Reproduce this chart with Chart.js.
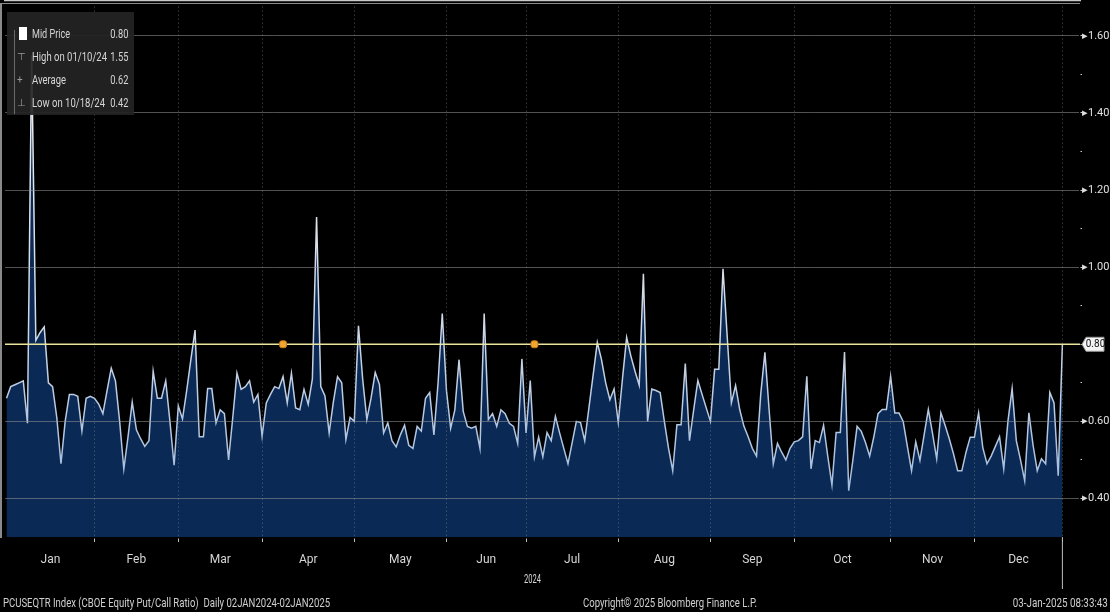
<!DOCTYPE html>
<html>
<head>
<meta charset="utf-8">
<script src="https://cdn.jsdelivr.net/npm/chart.js@4.4.1/dist/chart.umd.min.js"></script>
<style>
  html, body { margin: 0; padding: 0; background: #000; }
  #wrap {
    position: relative; width: 1110px; height: 612px; overflow: hidden; background: #000;
    font-family: "Liberation Sans Narrow", Roboto, "Liberation Sans", sans-serif;
    color: #d6d6d6;
  }
  #chart { position: absolute; left: 0; top: 0; }
  .frame { position: absolute; background: #8a8a8a; }
  #legendBox {
    position: absolute; left: 7px; top: 12px; width: 127px; height: 103px;
    background: rgba(36, 36, 36, 0.92); font-size: 13.5px;
  }
  #legendBox .lab, #legendBox .val { position: absolute; height: 23px; line-height: 23px; white-space: nowrap; display: inline-block; }
  #legendBox .lab { left: 25px; transform-origin: left center; }
  #legendBox .val { right: 6px; transform-origin: right center; }
  #legendBox .bar { position: absolute; left: 7px; top: 18px; width: 1px; height: 84px; background: #6a6a6a; }
  #legendBox .sym { position: absolute; left: 10px; font-size: 10px; color: #9a9a9a; line-height: 23px; }
  #legendBox .sq { position: absolute; left: 12px; top: 15px; width: 8px; height: 13px; background: #fff; }
  .foot { position: absolute; top: 595px; font-size: 13px; color: #cfcfcf; white-space: nowrap; line-height: 16px; display: inline-block; }
  #year { position: absolute; top: 570px; font-size: 13.5px; color: #d6d6d6; display: inline-block; transform-origin: left center; }
</style>
</head>
<body>
<div id="wrap">
  <canvas id="chart" width="1110" height="612"></canvas>
  <div class="frame" style="left:0; top:3px; width:2px; height:535px;"></div>
  <div class="frame" style="left:0; top:3px; width:1080px; height:1px;"></div>
  <div id="legendBox">
    <div class="bar"></div>
    <div class="sq"></div>
    <div class="sym" style="top:33px;">&#8868;</div>
    <div class="sym" style="top:56px;">+</div>
    <div class="sym" style="top:79px;">&#8869;</div>
    <span class="lab" style="top:10px;" data-w="38">Mid Price</span><span class="val" style="top:10px;" data-w="18">0.80</span>
    <span class="lab" style="top:33px;" data-w="75">High on 01/10/24</span><span class="val" style="top:33px;" data-w="18">1.55</span>
    <span class="lab" style="top:56px;" data-w="34">Average</span><span class="val" style="top:56px;" data-w="18">0.62</span>
    <span class="lab" style="top:79px;" data-w="73">Low on 10/18/24</span><span class="val" style="top:79px;" data-w="18">0.42</span>
  </div>
  <span id="year" data-w="17">2024</span>
  <span class="foot" style="left:3px; transform-origin:left center;" data-w="327">PCUSEQTR Index (CBOE Equity Put/Call Ratio)&nbsp; Daily 02JAN2024-02JAN2025</span>
  <span class="foot" style="left:583px; transform-origin:left center;" data-w="174">Copyright&copy; 2025 Bloomberg Finance L.P.</span>
  <span class="foot" style="right:2px; transform-origin:right center;" data-w="95">03-Jan-2025 08:33:43</span>
</div>
<script>
// daily put/call ratio, one value per trading day, grouped by month
const jan = [0.66, 0.69, 0.695, 0.70, 0.705, 0.595, 1.55, 0.81, 0.83, 0.845, 0.70, 0.69, 0.61, 0.49, 0.60, 0.67, 0.67, 0.665, 0.575, 0.66, 0.665];
const feb = [0.66, 0.645, 0.62, 0.68, 0.738, 0.705, 0.60, 0.477, 0.56, 0.65, 0.578, 0.555, 0.535, 0.55, 0.73, 0.66, 0.66, 0.705, 0.60, 0.486];
const mar = [0.64, 0.606, 0.68, 0.76, 0.837, 0.56, 0.56, 0.685, 0.685, 0.596, 0.63, 0.62, 0.50, 0.61, 0.725, 0.683, 0.69, 0.705, 0.65, 0.67];
const apr = [0.562, 0.648, 0.67, 0.69, 0.685, 0.716, 0.648, 0.725, 0.635, 0.63, 0.683, 0.644, 0.71, 1.13, 0.69, 0.666, 0.57, 0.65, 0.716, 0.70, 0.553, 0.61];
const may = [0.60, 0.848, 0.71, 0.605, 0.66, 0.727, 0.696, 0.57, 0.596, 0.55, 0.534, 0.565, 0.59, 0.538, 0.53, 0.587, 0.575, 0.66, 0.675, 0.565, 0.70, 0.88];
const jun = [0.68, 0.582, 0.63, 0.76, 0.626, 0.587, 0.582, 0.587, 0.53, 0.88, 0.605, 0.62, 0.587, 0.63, 0.62, 0.595, 0.587, 0.543, 0.762];
const jul = [0.57, 0.706, 0.508, 0.559, 0.508, 0.571, 0.55, 0.613, 0.57, 0.53, 0.49, 0.545, 0.60, 0.597, 0.55, 0.635, 0.72, 0.805, 0.76, 0.70, 0.656, 0.684];
const aug = [0.597, 0.71, 0.818, 0.77, 0.73, 0.694, 0.983, 0.60, 0.684, 0.68, 0.675, 0.60, 0.53, 0.472, 0.591, 0.591, 0.75, 0.55, 0.63, 0.706, 0.67, 0.635];
const sep = [0.60, 0.735, 0.735, 0.996, 0.82, 0.648, 0.693, 0.63, 0.587, 0.56, 0.53, 0.51, 0.67, 0.779, 0.63, 0.49, 0.543, 0.52, 0.50, 0.53];
const oct = [0.547, 0.55, 0.56, 0.717, 0.477, 0.55, 0.545, 0.59, 0.51, 0.435, 0.571, 0.571, 0.78, 0.42, 0.50, 0.587, 0.574, 0.545, 0.51, 0.56, 0.62, 0.631, 0.631];
const nov = [0.717, 0.622, 0.622, 0.60, 0.535, 0.472, 0.547, 0.499, 0.565, 0.631, 0.569, 0.503, 0.622, 0.59, 0.555, 0.516, 0.472, 0.472, 0.52, 0.559];
const dec = [0.559, 0.622, 0.532, 0.49, 0.51, 0.535, 0.56, 0.477, 0.60, 0.685, 0.55, 0.50, 0.446, 0.622, 0.538, 0.472, 0.503, 0.49, 0.675, 0.648, 0.459];
const jan25 = [0.80];

const monthNames = ["Jan", "Feb", "Mar", "Apr", "May", "Jun", "Jul", "Aug", "Sep", "Oct", "Nov", "Dec"];
const yTickLabels = ["0.40", "0.60", "0.80", "1.00", "1.20", "1.40", "1.60"];
const eventDays = [66, 126];   // trading-day index of the orange event flags

const months = [jan, feb, mar, apr, may, jun, jul, aug, sep, oct, nov, dec, jan25];
const values = months.flat();
const points = values.map((v, i) => ({ x: i, y: v }));

const monthStarts = [];
let count = 0;
months.forEach(m => { monthStarts.push(count); count += m.length; });
const gridDays = monthStarts.slice(1);
const labelDays = monthNames.map((n, i) => (monthStarts[i] + monthStarts[i + 1]) / 2);

const last = values[values.length - 1];

const majors = yTickLabels.map(Number);
const yTicks = [];
majors.forEach((v, i) => {
  yTicks.push(v);
  if (i < majors.length - 1) yTicks.push(Math.round((v + 0.1) * 10) / 10);
});

const X_MIN = -0.36;
const X_MAX = 256.2;
const FONT = "'Liberation Sans Narrow', Roboto, 'Liberation Sans', sans-serif";

// squeeze html labels to the narrow Bloomberg lettering
function fitWidth(el) {
  const target = Number(el.dataset.w);
  const actual = el.getBoundingClientRect().width;
  if (actual > 0) el.style.transform = "scaleX(" + (target / actual) + ")";
}
document.querySelectorAll("[data-w]").forEach(fitWidth);
const yearEl = document.getElementById("year");

const lastTag = {
  id: "lastTag",
  afterDraw(chart) {
    const ctx = chart.ctx;
    const y = chart.scales.y.getPixelForValue(last);
    const xs = chart.scales.x;
    const x0 = chart.chartArea.right + 2;
    ctx.save();
    // marker for the latest date under the axis
    const lx = xs.getPixelForValue(values.length - 1);
    ctx.strokeStyle = "#bdbdbd";
    ctx.lineWidth = 1;
    ctx.beginPath();
    ctx.moveTo(lx, chart.chartArea.bottom);
    ctx.lineTo(lx, chart.chartArea.bottom + 52);
    ctx.stroke();
    // price tag
    ctx.fillStyle = "#f4f4f4";
    ctx.strokeStyle = "#9a9a9a";
    ctx.beginPath();
    ctx.moveTo(x0, y);
    ctx.lineTo(x0 + 4, y - 7);
    ctx.lineTo(x0 + 22, y - 7);
    ctx.lineTo(x0 + 22, y + 7);
    ctx.lineTo(x0 + 4, y + 7);
    ctx.closePath();
    ctx.fill();
    ctx.stroke();
    ctx.fillStyle = "#111";
    ctx.font = "10px " + FONT;
    ctx.textAlign = "center";
    ctx.textBaseline = "middle";
    ctx.fillText(last.toFixed(2), x0 + 13.5, y + 0.5);
    ctx.restore();
    // centre the year caption under the July boundary
    const yx = xs.getPixelForValue(monthStarts[6]) + 6;
    yearEl.style.left = (yx - 8.5) + "px";
  }
};

new Chart(document.getElementById("chart"), {
  type: "line",
  data: {
    datasets: [
      {
        data: points,
        borderWidth: 1.5,
        borderColor: ctx => {
          const a = ctx.chart.chartArea;
          if (!a) return "#cfd8e6";
          const g = ctx.chart.ctx.createLinearGradient(0, a.top, 0, a.bottom);
          g.addColorStop(0, "#f6f6f6");
          g.addColorStop(0.6, "#cdd7e6");
          g.addColorStop(1, "#9ab6dc");
          return g;
        },
        backgroundColor: "#0a2a55",
        fill: "start",
        pointRadius: 0,
        tension: 0,
        order: 3
      },
      {
        data: [{ x: X_MIN, y: last }, { x: X_MAX, y: last }],
        borderColor: "#e9e59c",
        borderWidth: 1.6,
        pointRadius: 0,
        fill: false,
        order: 2
      },
      {
        type: "scatter",
        data: eventDays.map(d => ({ x: d, y: last })),
        pointStyle: "rectRounded",
        pointRadius: 4,
        backgroundColor: "#f2a531",
        borderColor: "#c77d12",
        borderWidth: 1,
        order: 1
      }
    ]
  },
  options: {
    responsive: false,
    animation: false,
    events: [],
    layout: { padding: { left: 0, top: 4, right: 0, bottom: 0 } },
    plugins: { legend: { display: false }, tooltip: { enabled: false } },
    scales: {
      xg: {
        type: "linear",
        position: "bottom",
        weight: 0,
        min: X_MIN,
        max: X_MAX,
        afterBuildTicks: s => { s.ticks = gridDays.map(v => ({ value: v })); },
        afterFit: s => { s.height = 6; },
        ticks: { display: false },
        grid: {
          z: 1,
          color: "rgba(150,150,150,0.55)",
          lineWidth: 1,
          drawTicks: true,
          tickLength: 5,
          tickColor: "#bdbdbd"
        },
        border: { display: true, color: "#c9c9c9", width: 2.5, dash: [1, 3] }
      },
      x: {
        type: "linear",
        position: "bottom",
        weight: 1,
        min: X_MIN,
        max: X_MAX,
        afterBuildTicks: s => { s.ticks = labelDays.map(v => ({ value: v })); },
        afterFit: s => { s.height = 612 - 537 - 6; },
        grid: { display: false },
        border: { display: false },
        ticks: {
          autoSkip: false,
          maxRotation: 0,
          padding: 2,
          color: "#d6d6d6",
          font: { family: FONT, size: 12 },
          callback: (v, i) => monthNames[i]
        }
      },
      y: {
        type: "linear",
        position: "right",
        min: 0.30,
        max: 1.676,
        afterBuildTicks: s => { s.ticks = yTicks.map(v => ({ value: v })); },
        afterFit: s => { s.width = 30; },
        grid: {
          z: 1,
          color: c => (c.index % 2 === 0 && Math.abs(yTicks[c.index] - last) > 0.001) ? "rgba(150,150,150,0.55)" : "rgba(0,0,0,0)",
          lineWidth: 1,
          drawTicks: true,
          tickLength: 2,
          tickColor: "#cfcfcf"
        },
        border: { display: true, color: "#d0d0d0", width: 1.5 },
        ticks: {
          padding: 0,
          color: "#e0e0e0",
          font: { family: FONT, size: 11 },
          callback: (v, i) => {
            if (i % 2 !== 0 || Math.abs(v - last) < 0.001) return "";
            return "\u25B8" + v.toFixed(2);
          }
        }
      }
    }
  },
  plugins: [lastTag]
});
</script>
</body>
</html>
